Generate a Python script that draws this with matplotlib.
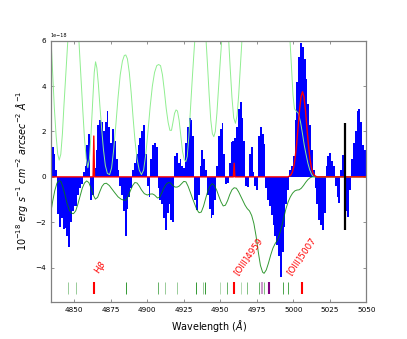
import matplotlib
matplotlib.use("Agg")
import matplotlib.pyplot as plt
import numpy as np

# residual flux per spectral pixel (1.25 A bins from 4834 A), units 1e-18
wl_start, wl_step = 4834.0, 1.25
flux = [1.7, 1.3, 1.0, 0.3, -1.65, -2.2, -1.8, -2.3, -2.25, -2.6,
        -3.1, -2.0, -1.5, -1.3, -1.3, -0.8, -0.5, -0.3, 0.2, 0.5,
        1.4, 1.9, -1.0, -0.8, 0.4, 1.2, 2.3, 2.5, 2.4, 2.0,
        2.4, 2.9, 2.2, 1.5, 2.1, 1.6, 0.8, 0.3, -0.4, -0.8,
        -1.5, -2.6, -1.4, -0.9, -0.5, 0.3, 0.6, 1.0, 1.4, 1.7,
        2.0, 2.3, 1.0, -0.4, -0.9, 0.8, 1.4, 1.5, 1.3, -0.5,
        -1.0, -1.2, -1.8, -2.35, -1.6, -1.2, -1.9, -2.0, 0.9, 1.05,
        0.6, 0.8, 0.5, 0.4, 1.5, 2.2, 2.6, 2.5, 1.8, -1.0,
        -1.45, -0.8, 0.5, 1.2, 0.8, 0.3, -0.8, -1.4, -1.8, -1.7,
        -1.0, 0.5, 1.8, 2.1, 2.36, 1.0, -0.3, -0.28, 0.6, 1.55,
        1.6, 1.7, 2.2, 3.0, 3.3, 2.6, 1.6, -0.4, -0.43, 1.0,
        1.33, 0.2, -0.4, -0.58, 1.8, 2.2, 1.9, 1.45, -0.5, -1.0,
        -1.3, -1.7, -2.1, -2.6, -3.0, -3.5, -4.4, -3.3, -2.2, -1.2,
        -0.6, 0.3, 0.5, 0.9, 2.5, 4.2, 5.3, 5.9, 5.7, 5.2,
        4.3, 3.2, 2.3, 1.2, 0.3, -0.5, -1.2, -1.9, -2.1, -2.34,
        -1.6, 0.5, 0.9, 1.04, 0.7, 0.5, -0.4, -0.9, -1.16, 0.3,
        0.96, -0.8, -1.5, -1.75, -0.6, 0.8, 1.5, 2.0, 2.9, 3.0,
        2.4, 1.4, 1.2]
wl = wl_start + wl_step * np.arange(len(flux))

# light green template
tmpl_wl = [4834.0, 4835.2, 4836.4, 4837.6, 4838.7, 4839.7, 4840.8, 4841.9, 4843.0, 4844.3,
           4845.6, 4847.0, 4848.4, 4851.1, 4853.2, 4854.5, 4855.8, 4857.0, 4858.2, 4859.3,
           4860.4, 4861.5, 4862.7, 4863.7, 4864.6, 4865.5, 4866.5, 4867.6, 4868.8, 4870.0,
           4871.3, 4872.7, 4874.2, 4875.6, 4877.0, 4878.5, 4880.0, 4881.5, 4883.0, 4884.3,
           4885.3, 4886.4, 4887.7, 4889.0, 4890.3, 4891.6, 4893.0, 4894.5, 4896.0, 4897.5,
           4899.0, 4900.5, 4902.0, 4903.5, 4905.0, 4906.5, 4907.8, 4909.1, 4910.4, 4911.7,
           4913.0, 4914.3, 4915.5, 4916.6, 4917.6, 4918.7, 4919.7, 4920.7, 4921.8, 4923.0,
           4924.2, 4925.4, 4926.4, 4927.4, 4928.5, 4929.6, 4930.8, 4932.0, 4933.2, 4934.5,
           4936.5, 4938.7, 4940.0, 4941.2, 4942.4, 4943.5, 4944.6, 4945.6, 4946.6, 4947.7,
           4948.9, 4950.1, 4951.3, 4953.0, 4954.5, 4955.6, 4956.8, 4958.0, 4959.2, 4960.4,
           4961.5, 4962.6, 4963.8, 4965.0, 4967.0, 4977.0, 4987.0, 4995.0, 4997.5, 4998.8,
           4999.8, 5000.8, 5002.0, 5003.5, 5005.0, 5006.3, 5007.5, 5008.7, 5010.0, 5011.3,
           5012.5, 5013.5, 5015.0, 5050.0]
tmpl = [6.2, 4.6, 3.0, 1.8, 1.0, 0.74, 1.0, 1.9, 3.2, 4.6,
        6.0, 7.0, 7.5, 7.0, 6.0, 4.5, 3.0, 1.7, 0.8, 0.4,
        0.8, 1.9, 3.4, 4.6, 5.07, 4.8, 4.1, 3.1, 2.1, 1.2,
        0.5, 0.15, 0.1, 0.4, 1.2, 2.3, 3.5, 4.5, 5.1, 5.35,
        5.37, 5.2, 4.6, 3.7, 2.6, 1.6, 0.8, 0.3, 0.1, 0.3,
        1.0, 2.0, 3.1, 4.0, 4.6, 4.9, 4.95, 4.9, 4.5, 3.8,
        3.0, 2.4, 2.05, 2.05, 2.4, 2.8, 2.95, 2.9, 2.5, 1.8,
        1.1, 0.75, 0.67, 0.9, 1.8, 3.0, 4.3, 5.5, 6.6, 7.5,
        7.8, 7.2, 6.3, 5.0, 3.6, 2.5, 1.9, 1.77, 2.0, 2.8,
        4.0, 5.2, 6.3, 7.0, 7.0, 6.2, 4.8, 3.5, 2.6, 2.36,
        2.7, 3.6, 4.9, 6.2, 7.5, 9.0, 9.0, 7.5, 6.3, 4.8,
        3.6, 3.0, 2.9, 2.8, 2.4, 1.9, 1.4, 1.0, 0.6, 0.3,
        0.12, 0.03, 0.0, 0.0]

# dark green smooth curve
smooth_wl = [4834.0, 4835.3, 4836.7, 4838.2, 4839.5, 4840.8, 4842.0, 4843.5, 4845.0, 4846.5,
             4848.0, 4849.5, 4851.0, 4852.5, 4854.0, 4855.5, 4857.0, 4858.5, 4860.0, 4861.5,
             4863.0, 4864.5, 4866.0, 4867.5, 4869.0, 4870.5, 4872.0, 4874.0, 4876.0, 4878.0,
             4880.0, 4882.0, 4884.0, 4885.5, 4887.0, 4888.5, 4890.0, 4891.5, 4893.0, 4894.5,
             4896.0, 4898.0, 4900.0, 4902.0, 4903.5, 4905.0, 4907.0, 4908.5, 4910.0, 4911.5,
             4913.0, 4914.5, 4916.0, 4917.5, 4919.0, 4920.5, 4922.0, 4923.5, 4925.0, 4926.5,
             4928.0, 4929.5, 4931.0, 4932.5, 4934.0, 4935.5, 4937.0, 4938.5, 4940.0, 4941.5,
             4943.0, 4944.5, 4946.0, 4947.5, 4949.0, 4950.5, 4952.0, 4953.5, 4955.0, 4956.5,
             4958.0, 4959.5, 4961.0, 4962.5, 4964.0, 4965.5, 4967.0, 4968.5, 4970.0, 4971.5,
             4973.0, 4974.5, 4976.0, 4977.5, 4979.0, 4980.0, 4981.5, 4983.0, 4984.5, 4986.0,
             4987.5, 4989.0, 4990.5, 4992.0, 4993.5, 4995.0, 4996.5, 4998.0, 4999.5, 5001.0,
             5002.5, 5004.0, 5005.5, 5007.0, 5008.5, 5010.0, 5011.5, 5013.0, 5050.0]
smooth = [-1.55, -1.05, -0.6, -0.27, -0.17, -0.2, -0.4, -0.75, -1.15, -1.45,
          -1.6, -1.62, -1.5, -1.2, -0.85, -0.5, -0.27, -0.18, -0.25, -0.5,
          -0.8, -0.98, -0.9, -0.65, -0.42, -0.3, -0.28, -0.38, -0.55, -0.72,
          -0.88, -0.98, -1.03, -1.02, -0.85, -0.6, -0.38, -0.25, -0.27, -0.4,
          -0.57, -0.74, -0.8, -0.76, -0.75, -0.8, -0.93, -0.9, -0.7, -0.48,
          -0.32, -0.25, -0.27, -0.38, -0.45, -0.45, -0.4, -0.3, -0.2, -0.22,
          -0.42, -0.68, -0.95, -1.2, -1.45, -1.58, -1.55, -1.3, -0.95, -0.62,
          -0.4, -0.3, -0.38, -0.58, -0.85, -1.1, -1.28, -1.25, -1.05, -0.78,
          -0.57, -0.48, -0.5, -0.65, -0.85, -1.05, -1.25, -1.4, -1.5, -1.7,
          -2.05, -2.6, -3.3, -3.9, -4.2, -4.25, -4.1, -3.8, -3.45, -3.15,
          -2.95, -2.8, -2.55, -2.2, -1.8, -1.4, -1.1, -0.88, -0.72, -0.62,
          -0.58, -0.57, -0.5, -0.38, -0.24, -0.12, -0.04, 0.0, 0.0]

# red line model
model_wl = [4834.0, 4862.9, 4863.4, 4863.9, 4959.0, 4959.5, 4960.0,
            4996.3, 4997.3, 4998.3, 4999.3, 5000.3, 5001.3, 5002.3, 5003.3, 5004.3, 5005.3,
            5006.3, 5007.3, 5008.3, 5009.3, 5010.3, 5011.3, 5012.3, 5013.3, 5014.3, 5015.3,
            5016.3, 5050.0]
model = [0.0, 0.0, 1.8, 0.0, 0.0, 0.6, 0.0,
         0.0, 0.03, 0.08, 0.20, 0.44, 0.85, 1.45, 2.20, 2.96, 3.53,
         3.75, 3.53, 2.96, 2.20, 1.45, 0.85, 0.44, 0.20, 0.08, 0.03,
         0.0, 0.0]

# line markers along the bottom
mark_wl = [4845.8, 4850.9, 4885.5, 4907.4, 4912.2, 4920.4, 4933.5, 4938.4, 4939.6,
           4949.7, 4954.7, 4964.5, 4968.0, 4976.4, 4979.8, 4993.0, 4996.4]
mark_alpha = [0.4, 0.4, 0.8, 0.6, 0.4, 0.4, 0.8, 0.4, 0.8,
              0.3, 0.6, 0.3, 0.5, 0.6, 0.5, 0.7, 0.7]
purple_wl = [4978.6, 4983.4]
purple_alpha = [0.4, 1.0]
em_wl = [4863.4, 4959.5, 5006.3]
em_names = [r'H$\beta$', '[OIII]4959', '[OIII]5007']
em_text_x = [4861.8, 4957.7, 4994.2]

sky_wl = 5035.2
sky_lo, sky_hi = -2.34, 2.36

s = 1e-18
fig, ax = plt.subplots(figsize=(4.07, 3.39), dpi=100)

ax.bar(wl, np.array(flux) * s, width=wl_step, color='blue', linewidth=0)
ax.plot(tmpl_wl, np.array(tmpl) * s, color='lightgreen', lw=0.7)
ax.plot(smooth_wl, np.array(smooth) * s, color='green', lw=0.7, alpha=0.8)
ax.plot(model_wl, np.array(model) * s, color='red', lw=1.0)
ax.vlines(sky_wl, sky_lo * s, sky_hi * s, color='black', lw=1.6)

for w, a in zip(mark_wl, mark_alpha):
    ax.vlines(w, -5.17 * s, -4.62 * s, color='green', lw=0.7, alpha=a)
for w, a in zip(purple_wl, purple_alpha):
    ax.vlines(w, -5.17 * s, -4.62 * s, color='purple', lw=1.5, alpha=a)
for w, tx, name in zip(em_wl, em_text_x, em_names):
    ax.vlines(w, -5.17 * s, -4.62 * s, color='red', lw=1.5)
    ax.text(tx, -4.4 * s, name, color='red', rotation=55, fontsize=6.3,
            ha='left', va='bottom')

ax.set_xlim(4834, 5050)
ax.set_ylim(-5.5 * s, 6 * s)
ax.set_xticks([4850, 4875, 4900, 4925, 4950, 4975, 5000, 5025, 5050])
ax.set_xlabel(r'Wavelength ($\AA$)', fontsize=6.9)
ax.set_ylabel(r'$10^{-18}$ $erg\ s^{-1}\ cm^{-2}\ arcsec^{-2}\ \AA^{-1}$', fontsize=6.9)
ax.tick_params(labelsize=5.2, top=True, right=True, direction='in', length=2.5,
               width=0.6, color='0.5')
ax.yaxis.get_offset_text().set_fontsize(3.5)
for sp in ax.spines.values():
    sp.set_color('0.5')
    sp.set_linewidth(0.9)

fig.savefig('out.png', dpi=100)
